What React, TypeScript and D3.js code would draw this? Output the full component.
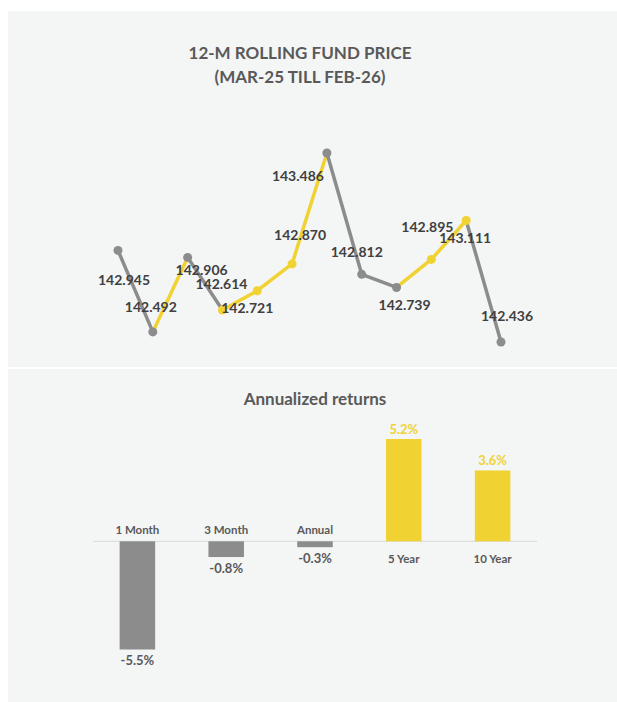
import * as d3 from "d3";
import { useRef, useEffect } from "react";

const months = ["Mar-25", "Apr-25", "May-25", "Jun-25", "Jul-25", "Aug-25", "Sep-25", "Oct-25", "Nov-25", "Dec-25", "Jan-26", "Feb-26"];
const prices = [142.945, 142.492, 142.906, 142.614, 142.721, 142.87, 143.486, 142.812, 142.739, 142.895, 143.111, 142.436];
// colour of each marker, and of the segment leading into each point (first unused)
const markerTone = ["g", "g", "g", "y", "y", "y", "g", "g", "g", "y", "y", "g"];
const segmentTone = ["g", "g", "y", "g", "y", "y", "y", "g", "g", "y", "y", "g"];

const periods = ["1 Month", "3 Month", "Annual", "5 Year", "10 Year"];
const returns = [-5.5, -0.8, -0.3, 5.2, 3.6];

// label placement relative to each point (as in the excel original)
const labelNudge = [[6, 30], [-2, -25], [14, 13], [-1, -26], [-10, 17], [8, -29], [-29, 23], [-5, -22], [8, 18], [-4, -32], [-1, 18], [6, -26]];

const YELLOW = "#F0D332";
const GRAY = "#8C8C8C";
const TEXT = "#595959";
const FONT = "Lato, 'Open Sans', sans-serif";

const App = () => {
    const ref = useRef(null);

    useEffect(() => {
        const W = 617, H = 702;
        d3.select(ref.current).select("svg").remove();

        const svg = d3.select(ref.current)
            .append("svg")
            .attr("width", W)
            .attr("height", H)
            .style("display", "block")
            .style("font-family", FONT);

        svg.append("rect").attr("x", 8).attr("y", 11).attr("width", W - 8).attr("height", 356).attr("fill", "#F4F5F5");
        svg.append("rect").attr("x", 8).attr("y", 369).attr("width", W - 8).attr("height", H - 369).attr("fill", "#F4F5F5");

        // ---- line chart ----
        svg.append("text").attr("x", 300).attr("y", 59).attr("text-anchor", "middle")
            .attr("font-size", 17).attr("font-weight", 700).attr("fill", TEXT)
            .text("12-M ROLLING FUND PRICE");
        svg.append("text").attr("x", 300).attr("y", 83).attr("text-anchor", "middle")
            .attr("font-size", 17).attr("font-weight", 700).attr("fill", TEXT)
            .text("(MAR-25 TILL FEB-26)");

        const x = d3.scalePoint().domain(months).range([118, 501]);
        const y = d3.scaleLinear().domain([142.436, 143.486]).range([342, 153]);
        const tone = t => (t === "y" ? YELLOW : GRAY);

        const g = svg.append("g");
        for (let i = 1; i < prices.length; i++) {
            g.append("line")
                .attr("x1", x(months[i - 1])).attr("y1", y(prices[i - 1]))
                .attr("x2", x(months[i])).attr("y2", y(prices[i]))
                .attr("stroke", tone(segmentTone[i]))
                .attr("stroke-width", 3.5)
                .attr("stroke-linecap", "round");
        }
        g.selectAll("circle").data(prices).join("circle")
            .attr("cx", (d, i) => x(months[i]))
            .attr("cy", d => y(d))
            .attr("r", 4.5)
            .attr("fill", (d, i) => tone(markerTone[i]));

        g.selectAll("text.lbl").data(prices).join("text")
            .attr("class", "lbl")
            .attr("x", (d, i) => x(months[i]) + labelNudge[i][0])
            .attr("y", (d, i) => y(d) + labelNudge[i][1])
            .attr("dy", "0.35em")
            .attr("text-anchor", "middle")
            .attr("font-size", 14)
            .attr("font-weight", 700)
            .attr("fill", "#404040")
            .text(d => d.toFixed(3));

        // ---- bar chart ----
        svg.append("text").attr("x", 315).attr("y", 405).attr("text-anchor", "middle")
            .attr("font-size", 17).attr("font-weight", 700).attr("fill", TEXT)
            .text("Annualized returns");

        const bx = d3.scaleBand().domain(periods).range([93, 537]).paddingInner(0.6).paddingOuter(0.3);
        const by = d3.scaleLinear().domain([-5.5, 5.2]).range([649.5, 439]);
        const base = by(0);

        const b = svg.append("g");
        b.append("line").attr("x1", 93).attr("x2", 537).attr("y1", base).attr("y2", base)
            .attr("stroke", "#D9D9D9").attr("stroke-width", 1);

        b.selectAll("rect").data(returns).join("rect")
            .attr("x", (d, i) => bx(periods[i]))
            .attr("width", bx.bandwidth())
            .attr("y", d => Math.min(by(d), base))
            .attr("height", d => Math.abs(by(d) - base))
            .attr("fill", d => (d < 0 ? GRAY : YELLOW));

        b.selectAll("text.cat").data(returns).join("text")
            .attr("class", "cat")
            .attr("x", (d, i) => bx(periods[i]) + bx.bandwidth() / 2)
            .attr("y", d => (d < 0 ? base - 11 : base + 18))
            .attr("dy", "0.35em")
            .attr("text-anchor", "middle")
            .attr("font-size", 11.5)
            .attr("font-weight", 700)
            .attr("fill", TEXT)
            .text((d, i) => periods[i]);

        b.selectAll("text.val").data(returns).join("text")
            .attr("class", "val")
            .attr("x", (d, i) => bx(periods[i]) + bx.bandwidth() / 2)
            .attr("y", d => (d < 0 ? by(d) + 11 : by(d) - 10))
            .attr("dy", "0.35em")
            .attr("text-anchor", "middle")
            .attr("font-size", 13)
            .attr("font-weight", 700)
            .attr("fill", d => (d < 0 ? TEXT : YELLOW))
            .text(d => d.toFixed(1) + "%");

        return () => {
            d3.select(ref.current).select("svg").remove();
        };
    }, []);

    return <div ref={ref} style={{ position: "absolute", left: 0, top: 0 }}></div>;
};

export default App;
